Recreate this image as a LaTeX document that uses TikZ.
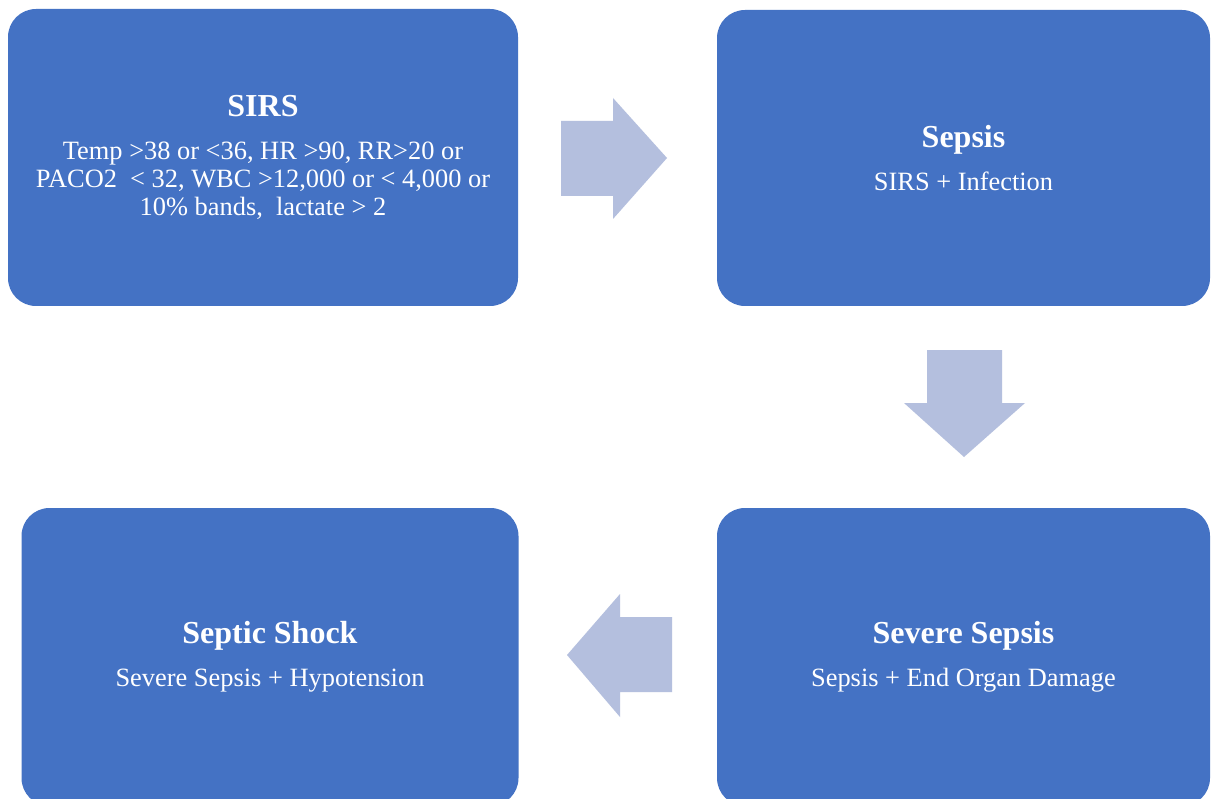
\documentclass[tikz,border=0pt]{standalone}
\usepackage{fontspec}
\setmainfont{Liberation Serif}
\definecolor{boxblue}{RGB}{68,114,196}
\definecolor{arrowblue}{RGB}{180,191,222}
\tikzset{
  stagebox/.style={fill=boxblue, draw=none, rounded corners=28pt, text=white, align=center,
    inner sep=0pt, font=\fontsize{26.4}{28}\selectfont},
  blockarrow/.style={fill=arrowblue, draw=none}
}
\newcommand{\stagetitle}[1]{{\fontsize{32}{36}\selectfont\bfseries #1}}
\begin{document}
\begin{tikzpicture}[x=1pt,y=-1pt]
\clip (0,0) rectangle (1212,799);
\fill[white] (0,0) rectangle (1212,799);
\node[stagebox, minimum width=510pt, minimum height=297pt] (sirs) at (263,157.5)
  {\stagetitle{SIRS}\\[15pt]
   Temp >38 or <36, HR >90, RR>20 or\\
   PACO2~ < 32, WBC >12,000 or < 4,000 or\\
   10\% bands,~ lactate > 2};
\node[stagebox, minimum width=493pt, minimum height=296pt] (sepsis) at (963.5,158)
  {\stagetitle{Sepsis}\\[15pt] SIRS + Infection};
\node[stagebox, minimum width=493pt, minimum height=298pt] (severe) at (963.5,657)
  {\stagetitle{Severe Sepsis}\\[15pt] Sepsis + End Organ Damage};
\node[stagebox, minimum width=497pt, minimum height=298pt] (shock) at (270,657)
  {\stagetitle{Septic Shock}\\[15pt] Severe Sepsis + Hypotension};
% block arrows
\fill[blockarrow] (561,121) -- (613,121) -- (613,98) -- (667,158) -- (613,219) -- (613,196) -- (561,196) -- cycle;
\fill[blockarrow] (927,350) -- (1002,350) -- (1002,403) -- (1025,403) -- (964,457) -- (904,403) -- (927,403) -- cycle;
\fill[blockarrow] (672,617) -- (620,617) -- (620,594) -- (567,655) -- (620,717) -- (620,692) -- (672,692) -- cycle;
\end{tikzpicture}
\end{document}
